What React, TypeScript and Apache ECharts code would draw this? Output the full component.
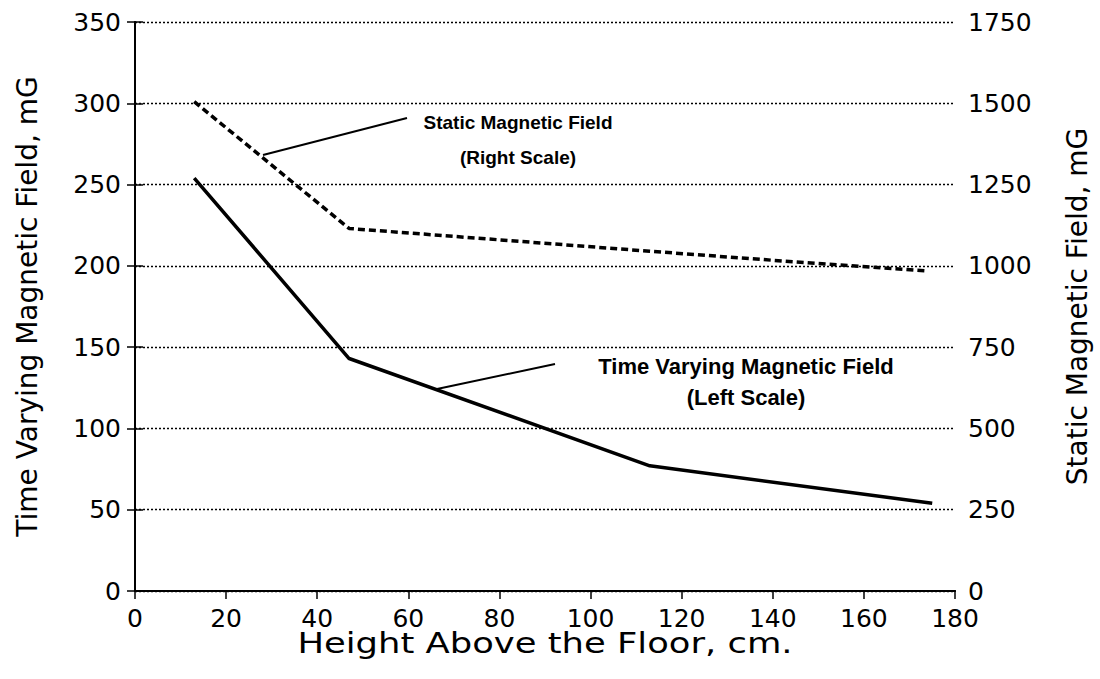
import React, { useEffect, useRef } from "react";
import * as echarts from "echarts";

const tvHeights = [13, 47, 113, 175];
const timeVarying = [254, 143, 77, 54];
const stHeights = [13, 47, 80, 113, 145, 174];
const staticField = [1505, 1115, 1080, 1045, 1012, 984];

const xTitle = "Height Above the Floor, cm.";
const leftTitle = "Time Varying Magnetic Field, mG";
const rightTitle = "Static Magnetic Field, mG";

const FONT = "DejaVu Sans";
const BOLD = "Liberation Sans";

export default function App() {
  const ref = useRef<HTMLDivElement>(null);
  useEffect(() => {
    if (!ref.current) return;
    const chart = echarts.init(ref.current, undefined, { renderer: "svg" });
    const axisLine = { show: true, lineStyle: { color: "#000", width: 2 } };
    const labelStyle = { color: "#000", fontSize: 25, fontFamily: FONT };
    const titleStyle = { color: "#000", fontSize: 28, fontFamily: FONT };
    const tick = { show: true, inside: false, length: 8, lineStyle: { color: "#000", width: 1.5 } };
    chart.setOption({
      animation: false,
      backgroundColor: "#fff",
      grid: { left: 135, right: 145, top: 22, bottom: 88 },
      xAxis: [
        {
          type: "value",
          min: 0,
          max: 180,
          interval: 20,
          position: "bottom",
          axisLine,
          axisTick: tick,
          axisLabel: { ...labelStyle, margin: 15 },
          splitLine: { show: false },
        },
        {
          type: "value",
          min: 0,
          max: 180,
          interval: 20,
          position: "top",
          axisLine,
          axisTick: { show: false },
          axisLabel: { show: false },
          splitLine: { show: false },
        },
      ],
      yAxis: [
        {
          type: "value",
          min: 0,
          max: 350,
          interval: 50,
          position: "left",
          axisLine,
          axisTick: tick,
          axisLabel: { ...labelStyle, margin: 14 },
          splitLine: { show: true, lineStyle: { color: "#000", width: 1.3, type: [2, 2] } },
          name: leftTitle,
          nameLocation: "middle",
          nameGap: 94,
          nameRotate: 90,
          nameTextStyle: titleStyle,
        },
        {
          type: "value",
          min: 0,
          max: 1750,
          interval: 250,
          position: "right",
          axisLine,
          axisTick: tick,
          axisLabel: { ...labelStyle, margin: 13, formatter: (v: number) => String(v) },
          splitLine: { show: false },
          name: rightTitle,
          nameLocation: "middle",
          nameGap: 108,
          nameRotate: 90,
          nameTextStyle: titleStyle,
        },
      ],
      series: [
        {
          type: "line",
          xAxisIndex: 0,
          yAxisIndex: 0,
          data: tvHeights.map((h, i) => [h, timeVarying[i]]),
          showSymbol: false,
          lineStyle: { color: "#000", width: 3.5 },
        },
        {
          type: "line",
          xAxisIndex: 0,
          yAxisIndex: 1,
          data: stHeights.map((h, i) => [h, staticField[i]]),
          showSymbol: false,
          lineStyle: { color: "#000", width: 3.5, type: [7, 4] },
        },
      ],
      graphic: [
        {
          type: "text",
          x: 545,
          y: 643,
          scaleX: 1.22,
          style: {
            text: xTitle,
            fill: "#000",
            font: `29px "${FONT}"`,
            align: "center",
            verticalAlign: "middle",
          },
        },
        {
          type: "text",
          x: 518,
          y: 122,
          style: {
            text: "Static Magnetic Field",
            fill: "#000",
            font: `bold 19px "${BOLD}"`,
            align: "center",
            verticalAlign: "middle",
          },
        },
        {
          type: "text",
          x: 518,
          y: 157,
          style: {
            text: "(Right Scale)",
            fill: "#000",
            font: `bold 19px "${BOLD}"`,
            align: "center",
            verticalAlign: "middle",
          },
        },
        {
          type: "text",
          x: 746,
          y: 366,
          style: {
            text: "Time Varying Magnetic Field",
            fill: "#000",
            font: `bold 22px "${BOLD}"`,
            align: "center",
            verticalAlign: "middle",
          },
        },
        {
          type: "text",
          x: 746,
          y: 397,
          style: {
            text: "(Left Scale)",
            fill: "#000",
            font: `bold 22px "${BOLD}"`,
            align: "center",
            verticalAlign: "middle",
          },
        },
        {
          type: "line",
          shape: { x1: 263, y1: 155, x2: 407, y2: 118 },
          style: { stroke: "#000", lineWidth: 2 },
        },
        {
          type: "line",
          shape: { x1: 437, y1: 389, x2: 555, y2: 364 },
          style: { stroke: "#000", lineWidth: 2 },
        },
      ],
    });
    return () => chart.dispose();
  }, []);
  return (
    <div
      ref={ref}
      style={{ position: "fixed", left: 0, top: 0, width: 1100, height: 679, background: "#fff" }}
    />
  );
}
